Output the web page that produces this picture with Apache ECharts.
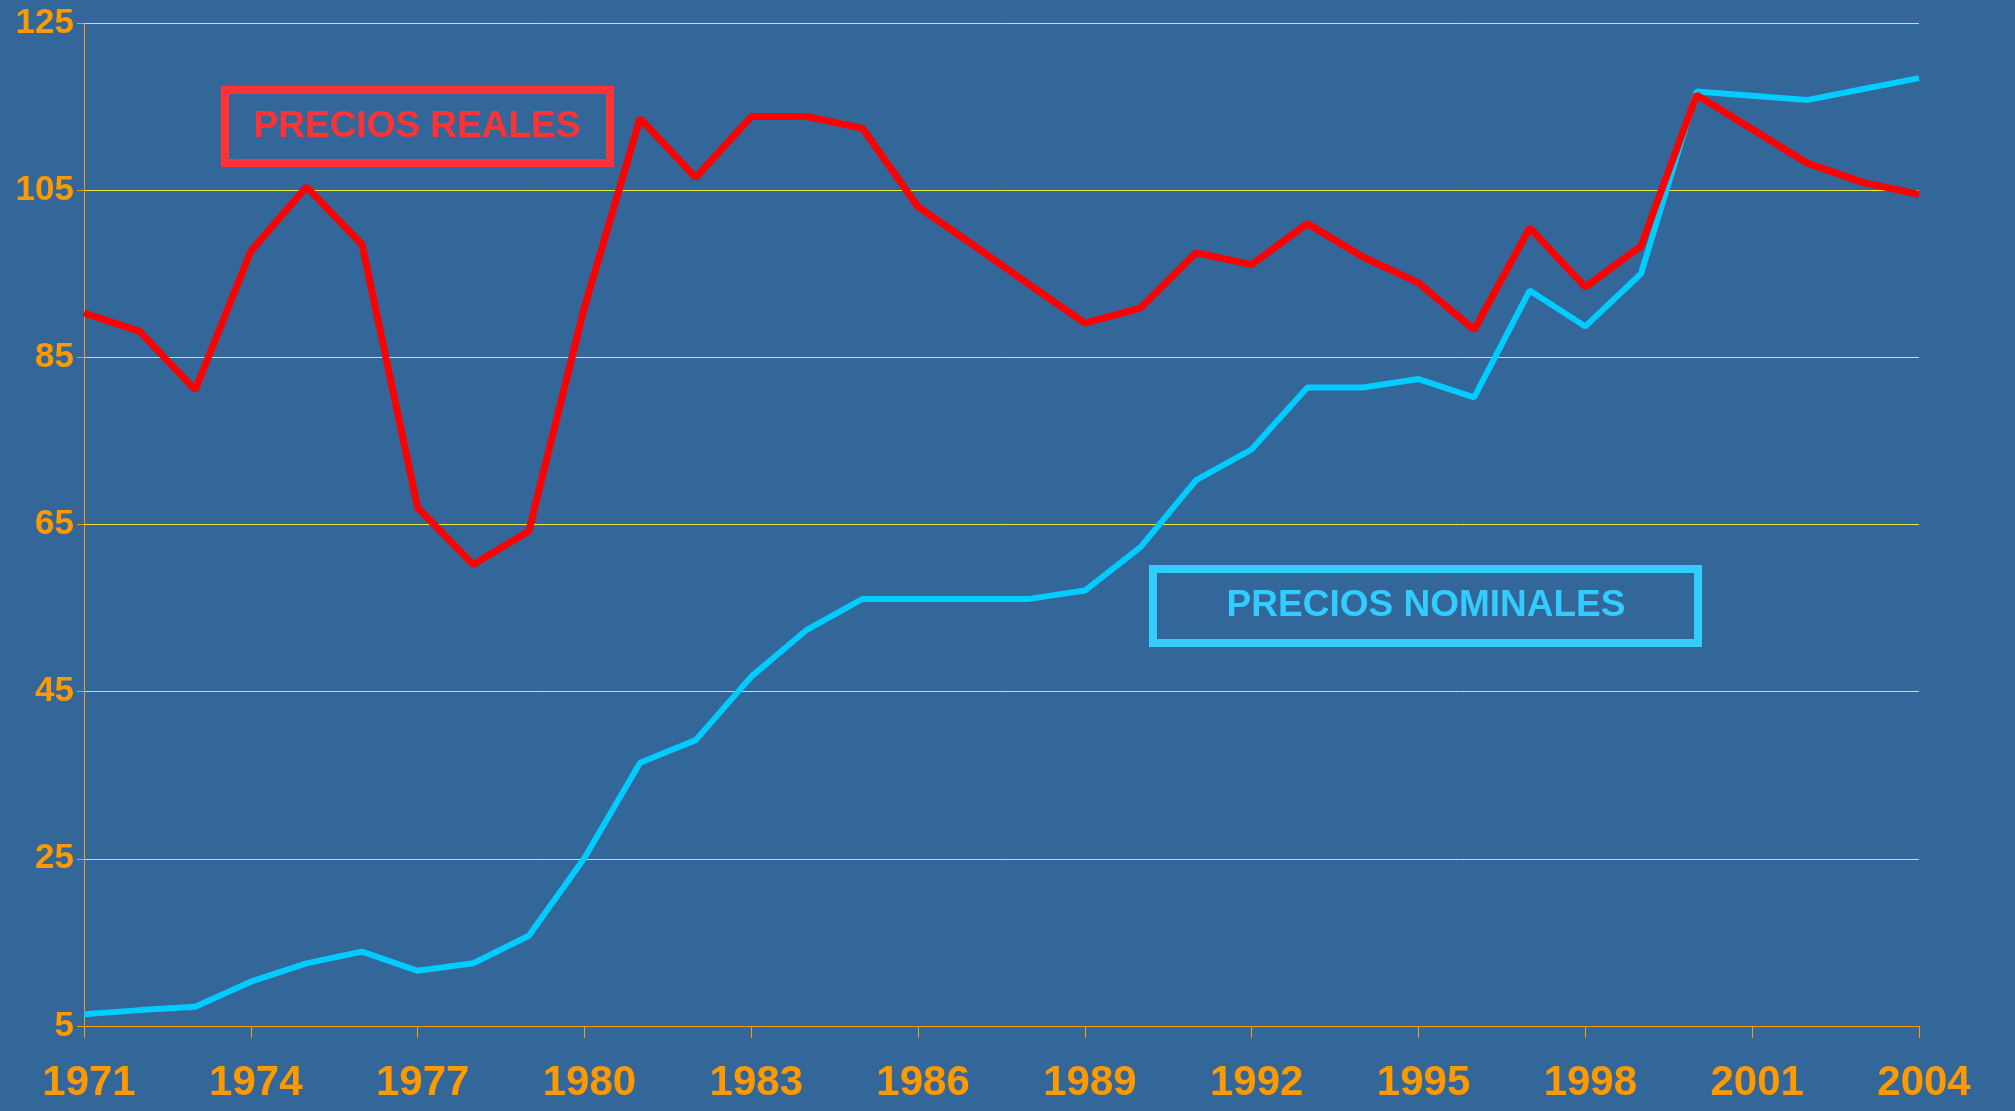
<!DOCTYPE html>
<html>
<head>
<meta charset="utf-8">
<script src="https://cdn.jsdelivr.net/npm/echarts@6/dist/echarts.min.js"></script>
<style>
html, body { margin: 0; padding: 0; background: #336699; }
#main { width: 2015px; height: 1111px; }
</style>
</head>
<body>
<div id="main"></div>
<script>
var years = ['1971','1972','1973','1974','1975','1976','1977','1978','1979','1980',
    '1981','1982','1983','1984','1985','1986','1987','1988','1989','1990',
    '1991','1992','1993','1994','1995','1996','1997','1998','1999','2000',
    '2001','2002','2003','2004'];
// precios reales (rojo)
var reales = [90.3, 88.1, 81.1, 97.7, 105.4, 98.5, 67.0, 60.2, 64.2, 91.0,
    113.6, 106.5, 113.8, 113.8, 112.4, 103.0, 98.4, 93.7, 89.1, 90.9,
    97.5, 96.1, 101.0, 97.0, 93.9, 88.3, 100.5, 93.4, 98.3, 116.4,
    112.3, 108.2, 105.9, 104.5];
// precios nominales (celeste)
var nominales = [6.4, 6.9, 7.3, 10.3, 12.5, 13.9, 11.6, 12.5, 15.8, 25.1,
    36.5, 39.2, 46.8, 52.4, 56.1, 56.1, 56.1, 56.1, 57.1, 62.3,
    70.3, 74.0, 81.4, 81.4, 82.4, 80.2, 93.0, 88.7, 95.0, 116.8,
    116.3, 115.8, 117.1, 118.4];
var yMin = 5, yMax = 125, yStep = 20;

var myChart = echarts.init(document.getElementById('main'));
var font = 'Liberation Sans, Arial, sans-serif';

option = {
    backgroundColor: '#336699',
    animation: false,
    grid: {
        left: 84,
        right: 96,
        top: 23,
        bottom: 85
    },
    xAxis: {
        type: 'category',
        boundaryGap: false,
        data: years,
        axisLine: {
            lineStyle: { color: '#ff9900', width: 1 }
        },
        axisTick: {
            interval: 2,
            length: 12,
            lineStyle: { color: '#ff9900' }
        },
        axisLabel: {
            interval: 2,
            margin: 36,
            padding: [0, 0, 0, 10],
            color: '#ff9900',
            fontSize: 42,
            fontWeight: 'bold',
            fontFamily: font
        },
        splitLine: { show: false }
    },
    yAxis: {
        type: 'value',
        min: yMin,
        max: yMax,
        interval: yStep,
        axisLine: {
            show: true,
            lineStyle: { color: '#ff9900', width: 1 }
        },
        axisTick: {
            show: true,
            length: 7,
            lineStyle: { color: '#ff9900' }
        },
        axisLabel: {
            margin: 10,
            color: '#ff9900',
            fontSize: 35,
            fontWeight: 'bold',
            fontFamily: font
        },
        splitLine: {
            show: true,
            lineStyle: { color: '#e8e840', width: 1 }
        }
    },
    series: [
        {
            name: 'PRECIOS NOMINALES',
            type: 'line',
            data: nominales,
            symbol: 'none',
            lineStyle: { color: '#00ccff', width: 6 }
        },
        {
            name: 'PRECIOS REALES',
            type: 'line',
            data: reales,
            symbol: 'none',
            lineStyle: { color: '#ff0000', width: 7 }
        }
    ],
    graphic: [
        {
            type: 'rect',
            shape: { x: 225, y: 90, width: 385, height: 73 },
            style: { fill: 'none', stroke: '#ff3333', lineWidth: 8 }
        },
        {
            type: 'text',
            x: 417, y: 127,
            style: {
                text: 'PRECIOS REALES',
                fill: '#ff3333',
                font: 'bold 37px ' + font,
                textAlign: 'center',
                textVerticalAlign: 'middle',
                textShadowColor: '#1a1a1a',
                textShadowOffsetX: 2,
                textShadowOffsetY: 2,
                textShadowBlur: 0
            }
        },
        {
            type: 'rect',
            shape: { x: 1153, y: 569, width: 545, height: 74 },
            style: { fill: 'none', stroke: '#33ccff', lineWidth: 8 }
        },
        {
            type: 'text',
            x: 1426, y: 606,
            style: {
                text: 'PRECIOS NOMINALES',
                fill: '#33ccff',
                font: 'bold 37px ' + font,
                textAlign: 'center',
                textVerticalAlign: 'middle',
                textShadowColor: '#1a1a1a',
                textShadowOffsetX: 2,
                textShadowOffsetY: 2,
                textShadowBlur: 0
            }
        }
    ]
};

myChart.setOption(option);
</script>
</body>
</html>
